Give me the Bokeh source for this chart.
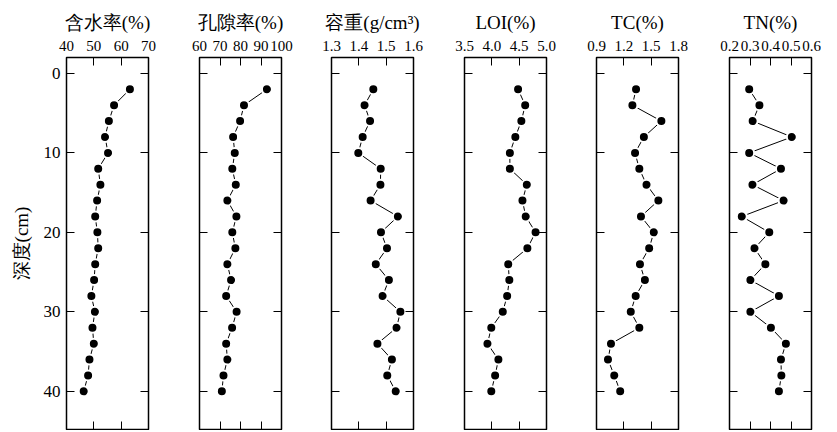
from bokeh.plotting import figure
from bokeh.models import Range1d, LinearAxis, FixedTicker, PrintfTickFormatter, CustomJSTickFormatter
from bokeh.layouts import row
from bokeh.embed import file_html
from bokeh.resources import INLINE

depth = [2, 4, 6, 8, 10, 12, 14, 16, 18, 20, 22, 24, 26, 28, 30, 32, 34, 36, 38, 40]

water = [63.2, 57.4, 55.5, 54.1, 55.2, 51.6, 52.4, 51.2, 50.5, 51.3,
         51.6, 50.5, 50.1, 49.1, 50.4, 49.5, 50.0, 48.4, 47.9, 46.3]
porosity = [92.9, 81.7, 79.8, 76.4, 77.2, 76.0, 77.7, 73.6, 78.0, 76.0,
            77.5, 73.6, 75.4, 73.0, 78.1, 75.9, 73.0, 73.6, 71.7, 70.9]
bulk = [1.453, 1.421, 1.441, 1.414, 1.398, 1.480, 1.479, 1.443, 1.543, 1.481,
        1.503, 1.462, 1.510, 1.487, 1.552, 1.538, 1.468, 1.521, 1.504, 1.535]
loi = [4.48, 4.61, 4.54, 4.43, 4.33, 4.33, 4.64, 4.56, 4.62, 4.80,
       4.65, 4.30, 4.32, 4.28, 4.20, 3.99, 3.92, 4.12, 4.06, 3.99]
tc = [1.334, 1.294, 1.612, 1.420, 1.323, 1.370, 1.449, 1.579, 1.388, 1.529,
      1.478, 1.377, 1.431, 1.330, 1.276, 1.370, 1.059, 1.026, 1.095, 1.160]
tn = [0.296, 0.346, 0.313, 0.504, 0.296, 0.451, 0.312, 0.464, 0.260, 0.394,
      0.322, 0.375, 0.302, 0.441, 0.302, 0.402, 0.475, 0.451, 0.453, 0.441]

titles = ["含水率(%)", "孔隙率(%)", "容重(g/cm³)", "LOI(%)", "TC(%)", "TN(%)"]
series = [water, porosity, bulk, loi, tc, tn]
x_ranges = [(40, 70), (60, 100), (1.3, 1.6), (3.5, 5.0), (0.9, 1.8), (0.2, 0.6)]
x_ticks = [[40, 50, 60, 70], [60, 70, 80, 90, 100], [1.3, 1.4, 1.5, 1.6],
           [3.5, 4.0, 4.5, 5.0], [0.9, 1.2, 1.5, 1.8], [0.2, 0.3, 0.4, 0.5, 0.6]]
x_formats = ["%d", "%d", "%.1f", "%.1f", "%.1f", "%.1f"]
depth_ticks = [0, 10, 20, 30, 40]
depth_label = "深度(cm)"

FONT = "Liberation Serif"
left_borders = [66, 25, 25, 25, 25, 25]
right_borders = [26, 25, 26, 25, 26, 10]


def blank():
    return CustomJSTickFormatter(code="return ''")


def style_axis(ax):
    ax.major_tick_in = 8
    ax.major_tick_out = 0
    ax.minor_tick_line_color = None
    ax.axis_line_color = None
    ax.major_tick_line_color = "black"
    ax.major_tick_line_width = 1
    ax.major_label_text_font = FONT
    ax.major_label_text_color = "black"
    ax.axis_label_text_font = FONT
    ax.axis_label_text_font_style = "normal"
    ax.axis_label_text_color = "black"
    ax.axis_label_text_font_size = "19px"


figs = []
for i in range(6):
    x0, x1 = x_ranges[i]
    p = figure(frame_width=82, frame_height=372,
               x_range=Range1d(x0, x1), y_range=Range1d(44.8, -2),
               x_axis_location="above",
               output_backend="svg", toolbar_location=None,
               min_border_left=left_borders[i], min_border_right=right_borders[i],
               min_border_top=57, min_border_bottom=1)
    p.grid.visible = False
    p.outline_line_color = "black"
    p.outline_line_width = 1.5
    p.background_fill_color = "white"
    p.border_fill_color = "white"

    xa = p.xaxis[0]
    xa.ticker = FixedTicker(ticks=x_ticks[i])
    xa.formatter = PrintfTickFormatter(format=x_formats[i])
    xa.axis_label = titles[i]
    xa.major_label_standoff = 7
    xa.axis_label_standoff = 5
    style_axis(xa)
    xa.major_label_text_font_size = "15px"

    ya = p.yaxis[0]
    ya.ticker = FixedTicker(ticks=depth_ticks)
    style_axis(ya)
    if i == 0:
        ya.axis_label = depth_label
        ya.major_label_text_font_size = "17px"
        ya.major_label_standoff = 6
        ya.axis_label_standoff = 9
    else:
        ya.formatter = blank()
        ya.major_label_standoff = 0

    bx = LinearAxis(ticker=FixedTicker(ticks=x_ticks[i]), formatter=blank(),
                    major_label_standoff=0)
    style_axis(bx)
    p.add_layout(bx, "below")

    ry = LinearAxis(ticker=FixedTicker(ticks=depth_ticks), formatter=blank(),
                    major_label_standoff=0)
    style_axis(ry)
    p.add_layout(ry, "right")

    p.line(series[i], depth, line_color="black", line_width=1)
    p.scatter(series[i], depth, size=10, fill_color="black",
              line_color="white", line_width=2)
    figs.append(p)

layout = row(*figs)
open("out.html", "w").write(file_html(layout, INLINE, title="soil profile"))
